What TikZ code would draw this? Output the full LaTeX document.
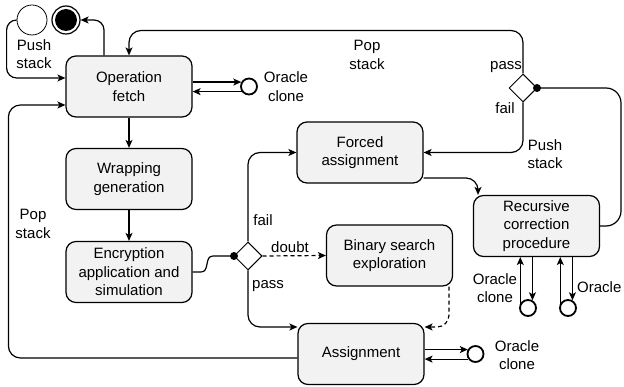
\documentclass[tikz,border=0pt]{standalone}
\usepackage{fontspec}
\setmainfont{Liberation Sans}
\usetikzlibrary{arrows.meta,shapes.geometric}
\definecolor{boxgray}{HTML}{F2F2F2}
\begin{document}
\begin{tikzpicture}[x=1pt,y=-1pt,
  font=\fontsize{15}{18.5}\selectfont,
  box/.style={draw, line width=1.2pt, rounded corners=10pt, fill=boxgray,
    minimum width=126pt, minimum height=61pt, align=center, inner sep=0pt},
  ln/.style={line width=1.2pt},
  arr/.style={ln, -{Stealth[length=8pt,width=7pt,inset=2pt]}},
  arrd/.style={arr, dash pattern=on 4pt off 3pt},
  oc/.style={circle, draw, line width=1.8pt, fill=white, minimum size=16pt, inner sep=0pt},
  dia/.style={diamond, draw, line width=1pt, fill=white, minimum size=28pt, inner sep=0pt},
  dot/.style={circle, fill=black, minimum size=8pt, inner sep=0pt},
  lbl/.style={align=center, inner sep=0pt},
  rc/.style={rounded corners=12pt}
]
\useasboundingbox (0,0) rectangle (624,387);

% boxes
\node[box] (op) at (129,86.5) {Operation\\fetch};
\node[box] (wrap) at (129,179) {Wrapping\\generation};
\node[box] (enc) at (129,272) {Encryption\\application and\\simulation};
\node[box] (forced) at (360,152.5) {Forced\\assignment};
\node[box] (rec) at (536.5,226) {Recursive\\correction\\procedure};
\node[box] (binary) at (389.5,255.5) {Binary search\\exploration};
\node[box] (assign) at (361,354) {Assignment};

% start / end circles
\node[circle, draw, line width=0.8pt, fill=white, minimum size=30pt, inner sep=0pt] (startc) at (32,20) {};
\node[circle, draw, line width=1.2pt, fill=white, minimum size=28pt, inner sep=0pt] (endc) at (66,20) {};
\node[circle, fill=black, minimum size=22pt, inner sep=0pt] (endin) at (66,20) {};

% decisions
\node[dia] (d1) at (523,88) {};
\node[dot] (dot1) at (537,88) {};
\node[dia] (d2) at (248,256) {};
\node[dot] (dot2) at (234,256) {};

% oracle circles
\node[oc] (oc1) at (249,86.5) {};
\node[oc] (oc2) at (528,308) {};
\node[oc] (oc3) at (568,308) {};
\node[oc] (oc4) at (475.5,354) {};

% labels
\node[lbl] (lpush1) at (34,54) {Push\\stack};
\node[lbl] (lpop1) at (367,55) {Pop\\stack};
\node[lbl] (lpass1) at (506,67) {pass};
\node[lbl] (lfail1) at (505,108) {fail};
\node[lbl] (lpush2) at (545,154) {Push\\stack};
\node[lbl] (lpop2) at (33,224) {Pop\\stack};
\node[lbl] (lfail2) at (263,220) {fail};
\node[lbl] (ldoubt) at (290,247) {doubt};
\node[lbl] (lpass2) at (268,286) {pass};
\node[lbl] (loc1) at (286,86.5) {Oracle\\clone};
\node[lbl] (loc2) at (495,288) {Oracle\\clone};
\node[lbl, anchor=west] (loc3) at (577,287) {Oracle};
\node[lbl] (loc4) at (517,355) {Oracle\\clone};

% connectors
\draw[arr, rounded corners=10pt] ([xshift=-25pt]op.north) |- (endc.east);
\draw[arr, rounded corners=10pt] (startc.west) -- ++(-10,0) |- ([yshift=8.5pt]op.west);
\draw[arr, rc] (d1.north) -- ++(0,-43) -| (op.north);
\draw[arr, rc] (d1.south) |- (forced.east);
\draw[ln, rounded corners=15pt] (dot1.center) -- ++(84,0) |- (rec.east);
\draw[arr, rc] ([yshift=-25.5pt]forced.east) -| ([xshift=-58.5pt]rec.north);
\draw[ln] (enc.east) -- (201,272) .. controls (210,272) and (204,256) .. (213,256) -- (dot2.center);
\draw[arr, rc] (d2.north) |- (forced.west);
\draw[arrd] (d2.east) -- (binary.west);
\draw[arr, rc] (d2.south) |- ([yshift=27pt]assign.west);
\draw[arrd, rc] ([xshift=59.5pt]binary.south) |- ([yshift=27pt]assign.east);
\draw[arr, rc] ([yshift=-4pt]assign.west) -- ++(-289,0) |- ([yshift=-18.5pt]op.west);
\draw[arr] (op) -- (wrap);
\draw[arr] (wrap) -- (enc);

% oracle arrows
\draw[arr] (op.east |- oc1.150) -- (oc1.150);
\draw[arr] (oc1.215) -- (op.east |- oc1.215);
\draw[arr] (oc2.150) -- (oc2.150 |- rec.south);
\draw[arr] (rec.south -| oc2.60) -- (oc2.60);
\draw[arr] (oc3.150) -- (oc3.150 |- rec.south);
\draw[arr] (rec.south -| oc3.60) -- (oc3.60);
\draw[arr] (assign.east |- oc4.150) -- (oc4.150);
\draw[arr] (oc4.215) -- (assign.east |- oc4.215);
\end{tikzpicture}
\end{document}
